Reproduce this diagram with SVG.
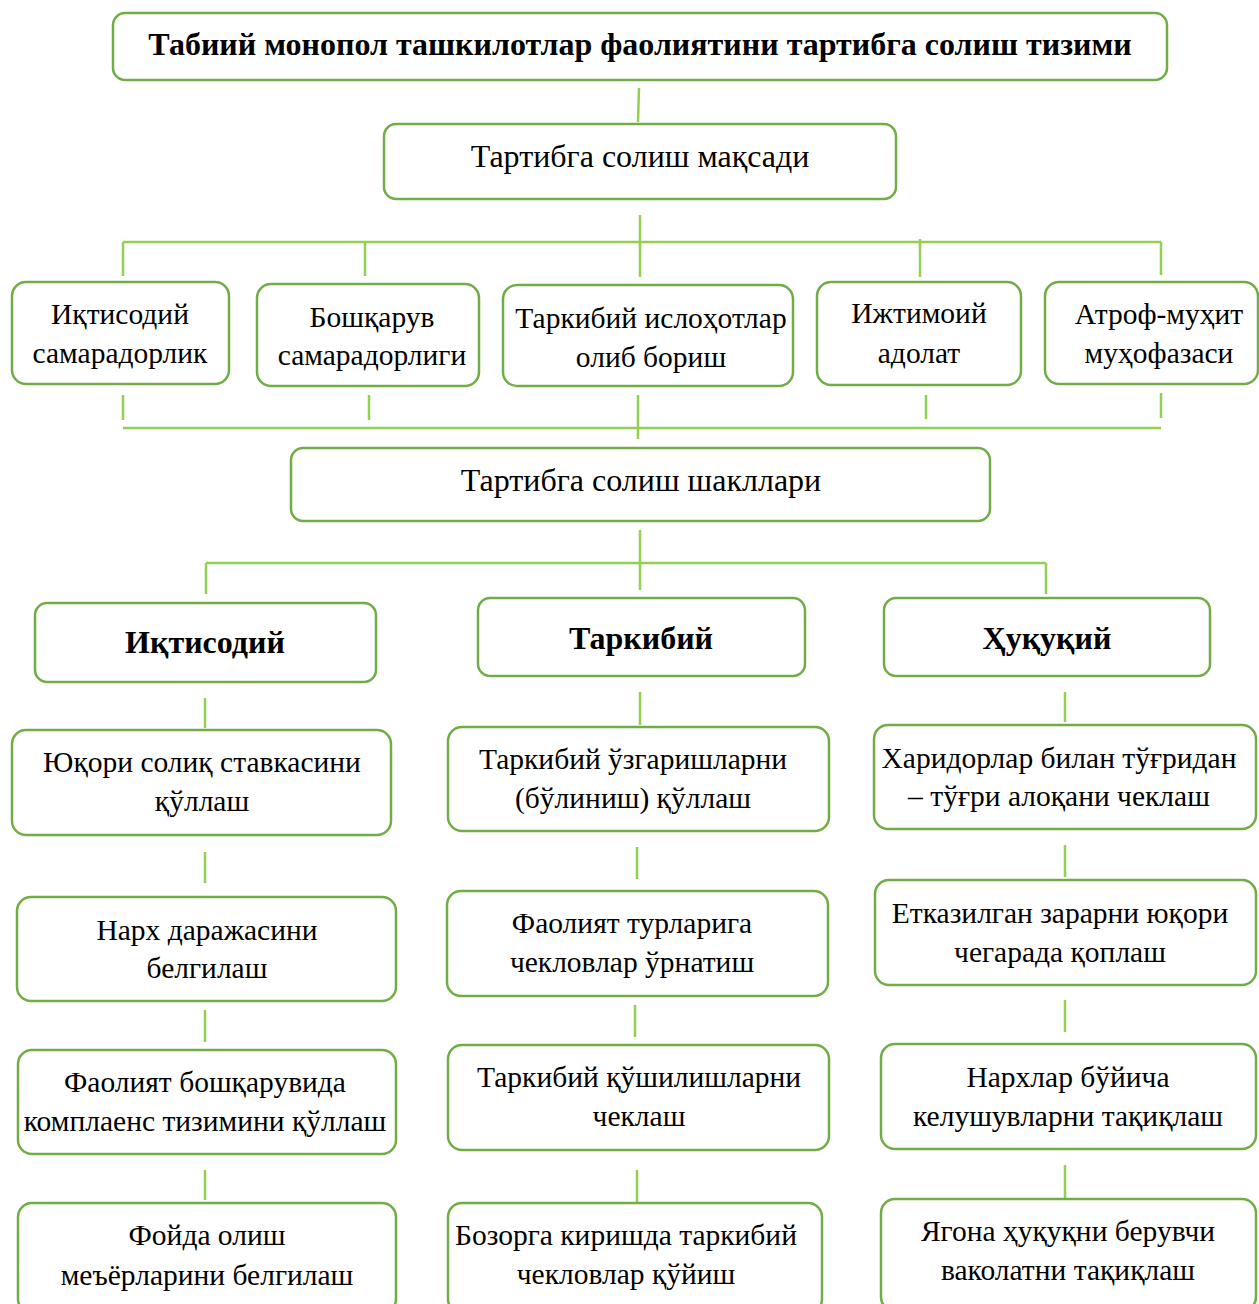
<svg xmlns="http://www.w3.org/2000/svg" width="1259" height="1304" viewBox="0 0 1259 1304">
<style>
.b{fill:#fff;stroke:#70AD47;stroke-width:2.5}
.t{font-family:"Liberation Serif","Times New Roman",serif;font-size:29.5px;fill:#000;text-anchor:middle}
.h{font-size:32px}
.tb{font-weight:bold;font-size:32px}
.c{stroke:#92D050;stroke-width:2.5;fill:none}
</style>
<rect width="1259" height="1304" fill="#fff"/>
<g id="connectors">
<path class="c" d="M639 88L638 122"/>
<path class="c" d="M640 215V277M123 242H1161M123 242V276M365 242V276M920 239V277M1161 242V275"/>
<path class="c" d="M123 395V420M369 395V420M638 395V439M926 395V419M1161 393V418M123 428H1161"/>
<path class="c" d="M640 530V590M206 563H1046M206 563V594M1046 563V594"/>
<path class="c" d="M205 698V728M205 852V883M205 1010V1042M205 1170V1200"/>
<path class="c" d="M640 692V725M637 847V879M635 1005V1037M637 1170V1202"/>
<path class="c" d="M1065 692V722M1065 845V877M1065 1000V1032M1065 1165V1198"/>
</g>
<g id="n-title"><rect class="b" x="113" y="13" width="1054" height="67" rx="12"/><text class="t tb" x="640" y="55">Табиий монопол ташкилотлар фаолиятини тартибга солиш тизими</text></g>
<g id="n-goal"><rect class="b" x="384" y="124" width="512" height="75" rx="12"/><text class="t h" x="640" y="167">Тартибга солиш мақсади</text></g>
<g id="n-g1"><rect class="b" x="12" y="282" width="217" height="102" rx="14"/><text class="t" x="120" y="324">Иқтисодий</text><text class="t" x="120" y="363">самарадорлик</text></g>
<g id="n-g2"><rect class="b" x="257" y="284" width="222" height="102" rx="14"/><text class="t" x="372" y="327">Бошқарув</text><text class="t" x="372" y="365">самарадорлиги</text></g>
<g id="n-g3"><rect class="b" x="503" y="285" width="290" height="101" rx="14"/><text class="t" x="651" y="328">Таркибий ислоҳотлар</text><text class="t" x="651" y="367">олиб бориш</text></g>
<g id="n-g4"><rect class="b" x="817" y="282" width="204" height="103" rx="14"/><text class="t" x="919" y="323">Ижтимоий</text><text class="t" x="919" y="363">адолат</text></g>
<g id="n-g5"><rect class="b" x="1045" y="282" width="213" height="102" rx="14"/><text class="t" x="1159" y="324">Атроф-муҳит</text><text class="t" x="1159" y="363">муҳофазаси</text></g>
<g id="n-forms"><rect class="b" x="291" y="448" width="699" height="73" rx="12"/><text class="t h" x="641" y="491">Тартибга солиш шакллари</text></g>
<g id="n-econ"><rect class="b" x="35" y="603" width="341" height="79" rx="12"/><text class="t tb" x="205" y="653">Иқтисодий</text></g>
<g id="n-struct"><rect class="b" x="478" y="598" width="327" height="78" rx="12"/><text class="t tb" x="641" y="649">Таркибий</text></g>
<g id="n-legal"><rect class="b" x="884" y="598" width="326" height="78" rx="12"/><text class="t tb" x="1047" y="649">Ҳуқуқий</text></g>
<g id="n-a1"><rect class="b" x="12" y="730" width="379" height="105" rx="14"/><text class="t" x="202" y="772">Юқори солиқ ставкасини</text><text class="t" x="202" y="811">қўллаш</text></g>
<g id="n-a2"><rect class="b" x="17" y="897" width="379" height="104" rx="14"/><text class="t" x="207" y="940">Нарх даражасини</text><text class="t" x="207" y="978">белгилаш</text></g>
<g id="n-a3"><rect class="b" x="18" y="1050" width="378" height="104" rx="14"/><text class="t" x="205" y="1092">Фаолият бошқарувида</text><text class="t" x="205" y="1131">комплаенс тизимини қўллаш</text></g>
<g id="n-a4"><rect class="b" x="18" y="1203" width="378" height="110" rx="14"/><text class="t" x="207" y="1245">Фойда олиш</text><text class="t" x="207" y="1285">меъёрларини белгилаш</text></g>
<g id="n-b1"><rect class="b" x="448" y="727" width="381" height="104" rx="14"/><text class="t" x="633" y="769">Таркибий ўзгаришларни</text><text class="t" x="633" y="808">(бўлиниш) қўллаш</text></g>
<g id="n-b2"><rect class="b" x="447" y="891" width="381" height="105" rx="14"/><text class="t" x="632" y="933">Фаолият турларига</text><text class="t" x="632" y="972">чекловлар ўрнатиш</text></g>
<g id="n-b3"><rect class="b" x="448" y="1045" width="381" height="105" rx="14"/><text class="t" x="639" y="1087">Таркибий қўшилишларни</text><text class="t" x="639" y="1126">чеклаш</text></g>
<g id="n-b4"><rect class="b" x="448" y="1203" width="374" height="110" rx="14"/><text class="t" x="626" y="1245">Бозорга киришда таркибий</text><text class="t" x="626" y="1284">чекловлар қўйиш</text></g>
<g id="n-c1"><rect class="b" x="874" y="725" width="382" height="104" rx="14"/><text class="t" x="1059" y="768">Харидорлар билан тўғридан</text><text class="t" x="1059" y="806">– тўғри алоқани чеклаш</text></g>
<g id="n-c2"><rect class="b" x="875" y="880" width="381" height="105" rx="14"/><text class="t" x="1060" y="923">Етказилган зарарни юқори</text><text class="t" x="1060" y="962">чегарада қоплаш</text></g>
<g id="n-c3"><rect class="b" x="881" y="1044" width="375" height="105" rx="14"/><text class="t" x="1068" y="1087">Нархлар бўйича</text><text class="t" x="1068" y="1126">келушувларни тақиқлаш</text></g>
<g id="n-c4"><rect class="b" x="881" y="1199" width="375" height="112" rx="14"/><text class="t" x="1068" y="1241">Ягона ҳуқуқни берувчи</text><text class="t" x="1068" y="1280">ваколатни тақиқлаш</text></g>
</svg>
